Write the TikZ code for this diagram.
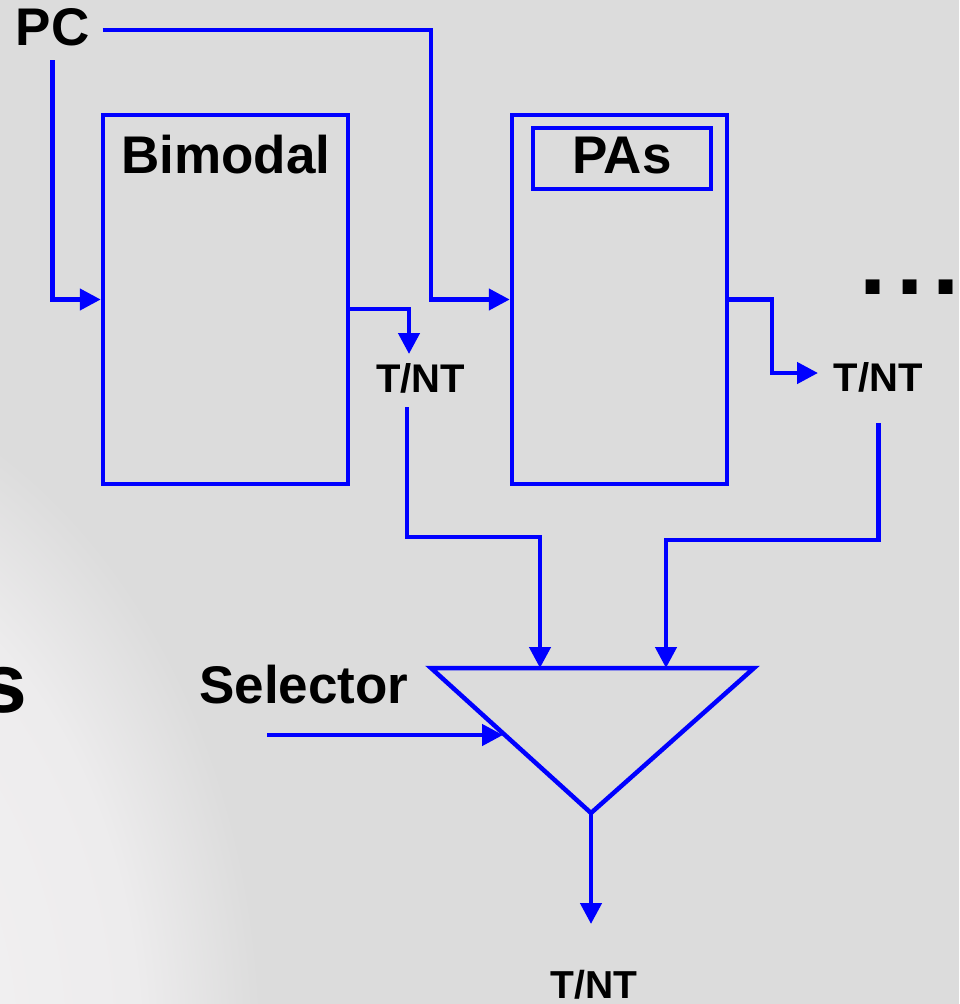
\documentclass[tikz,border=0pt]{standalone}
\usepackage{fontspec}
\setmainfont{Liberation Sans}
\usetikzlibrary{arrows.meta}

\definecolor{slidebg}{RGB}{220,220,220}
\definecolor{slidelight}{RGB}{246,244,245}
\definecolor{slidemid}{RGB}{237,236,237}
\definecolor{wireblue}{RGB}{0,0,255}
\pgfdeclareradialshading{swirl}{\pgfpoint{0bp}{0bp}}{color(0bp)=(slidelight); color(19bp)=(slidemid); color(25bp)=(slidebg); color(50bp)=(slidebg)}

\begin{document}
\begin{tikzpicture}[x=1pt, y=-1pt, >={Triangle[length=21pt,width=21pt]}, every node/.style={text=black}]
		\tikzstyle{block}=[draw=wireblue, line width=4.5pt, inner sep=0pt]
		\tikzstyle{wire}=[draw=wireblue, line width=4.5pt]
		\tikzstyle{big}=[font=\fontsize{53}{60}\selectfont\bfseries]
		\tikzstyle{small}=[font=\fontsize{40}{46}\selectfont\bfseries]

    % Background
		\useasboundingbox (0,0) rectangle (959,1004);
		\fill[slidebg] (0,0) rectangle (959,1004);
		\begin{scope}
			\clip (0,0) rectangle (959,1004);
			\shade[shading=swirl] (-250,1050) ellipse (512pt and 687pt);
		\end{scope}

    % Predictor blocks
		\node[block, minimum width=245pt, minimum height=369pt] (bim) at (225.5,299.5) {};
		\node[big, anchor=base] (bimlbl) at (226,173) {Bimodal};
		\node[block, minimum width=215pt, minimum height=369pt] (pasbox) at (619.5,299.5) {};
		\node[block, big, minimum width=178pt, minimum height=61pt, text height=38pt, text depth=9pt] (pas) at (622,158.5) {PAs};

    % PC input
		\node[big, anchor=base, inner xsep=13pt, inner ysep=7pt, text height=38pt, text depth=8pt] (pc) at (52.5,45) {PC};
		\coordinate (pcturn) at (431,30);
		\draw[wire,->] (pc.east) -- (pcturn) |- (pasbox.west);
		\draw[wire,->] (pc.south) |- (bim.west);

    % Predictions
		\node[small, anchor=base] (tnt1) at (420.5,392) {T/NT};
		\node[small, anchor=base] (tnt2) at (878,391) {T/NT};
		\coordinate (b1turn) at (409,309);
		\coordinate (t1in) at (409,354);
		\draw[wire,->] ([yshift=-9.5pt]bim.east) -- (b1turn) -- (t1in);
		\coordinate (pturn) at (772,373);
		\coordinate (t2in) at (818,373);
		\draw[wire,->] (pasbox.east) -| (pturn) -- (t2in);
		\node[font=\fontsize{98}{100}\selectfont\bfseries, anchor=base west, inner sep=0pt] (dots) at (859.7,294) {.\hspace{9pt}.\hspace{9pt}.};

    % Selector
		\coordinate (selL) at (431,668);
		\coordinate (selR) at (754,668);
		\coordinate (selB) at (591,813);
		\draw[wire] (selL) -- (selR) -- (selB) -- cycle;
		\node[big, anchor=base] (sellbl) at (304,703) {Selector};

		\coordinate (t1out) at (407,407);
		\coordinate (s1turn) at (540,537);
		\coordinate (s1in) at (540,668);
		\draw[wire,->] (t1out) |- (s1turn) -- (s1in);

		\coordinate (t2out) at (878.5,423);
		\coordinate (s2turn) at (666,540);
		\coordinate (s2in) at (666,668);
		\draw[wire,->] (t2out) |- (s2turn) -- (s2in);

		\coordinate (selsrc) at (267,735);
		\coordinate (selin) at (503,735);
		\draw[wire,->] (selsrc) -- (selin);

		\coordinate (outtip) at (591,924);
		\draw[wire,->] (selB) -- (outtip);
		\node[font=\fontsize{39}{45}\selectfont\bfseries, anchor=base, inner sep=0pt] (tntout) at (594,998) {T/NT};

    % Cut-off title letter
		\node[font=\fontsize{84}{90}\selectfont\bfseries, anchor=base west, inner sep=0pt] (cut) at (-20,712) {s};
\end{tikzpicture}
\end{document}
